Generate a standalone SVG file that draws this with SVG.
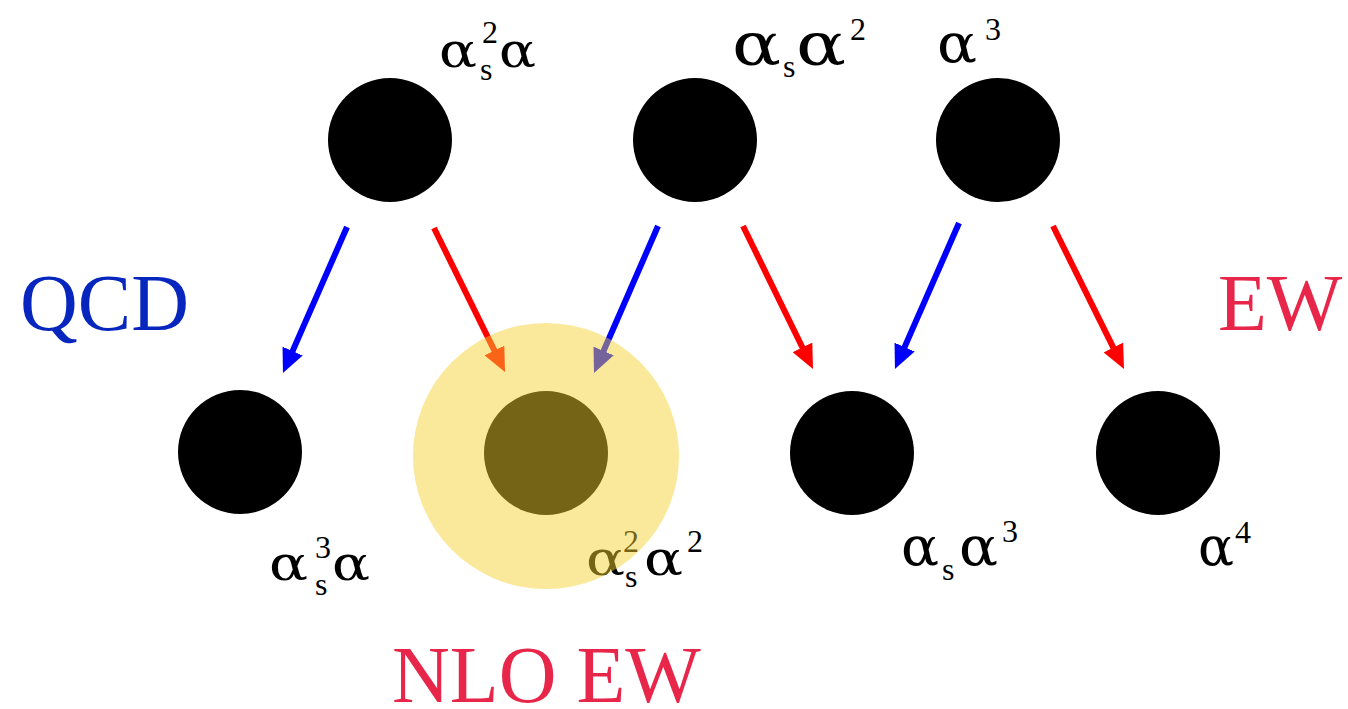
<svg xmlns="http://www.w3.org/2000/svg" width="1348" height="709" viewBox="0 0 1348 709">
<style>
  .node { fill: #000; }
  .lbl { font-family: "Liberation Serif", "Times New Roman", serif; fill: #000; }
  .a { font-family: "DejaVu Serif", "Liberation Serif", serif; }
  .big { font-size: 48px; }
  .big2 { font-size: 60px; }
  .big3 { font-size: 54px; }
  .sm { font-size: 32px; }
  .head { font-family: "Liberation Serif", "Times New Roman", serif; font-size: 80px; }
  .qcd { fill: #0626BE; }
  .ew { fill: #E8264A; }
  .arr-b { stroke: #0000FF; stroke-width: 6; fill: none; marker-end: url(#hb); }
  .arr-r { stroke: #FF0000; stroke-width: 6; fill: none; marker-end: url(#hr); }
</style>
<defs>
  <marker id="hb" viewBox="0 0 24 22" refX="2" refY="11" markerWidth="24" markerHeight="22" markerUnits="userSpaceOnUse" orient="auto">
    <path d="M0,0 L24,11 L0,22 z" fill="#0000FF"/>
  </marker>
  <marker id="hr" viewBox="0 0 24 22" refX="2" refY="11" markerWidth="24" markerHeight="22" markerUnits="userSpaceOnUse" orient="auto">
    <path d="M0,0 L24,11 L0,22 z" fill="#FF0000"/>
  </marker>
</defs>
<rect width="1348" height="709" fill="#fff"/>

<g id="connectors">
  <line class="arr-b" x1="347" y1="227" x2="291.8" y2="352.9"/>
  <line class="arr-r" x1="434" y1="228" x2="495.3" y2="352.3"/>
  <line class="arr-b" x1="658" y1="226" x2="602.8" y2="352.8"/>
  <line class="arr-r" x1="743" y1="226" x2="803.3" y2="349.2"/>
  <line class="arr-b" x1="959" y1="223" x2="903.8" y2="348.9"/>
  <line class="arr-r" x1="1053" y1="226" x2="1114.2" y2="349.3"/>
</g>

<g id="node-as2a">
  <circle class="node" cx="390" cy="140" r="62"/>
  <text class="lbl"><tspan class="a big" x="439" y="67" textLength="38" lengthAdjust="spacingAndGlyphs">α</tspan><tspan class="sm" x="480" y="80">s</tspan><tspan class="sm" x="482" y="43">2</tspan><tspan class="a big" x="499" y="67" textLength="37" lengthAdjust="spacingAndGlyphs">α</tspan></text>
</g>
<g id="node-asa2">
  <circle class="node" cx="695" cy="140" r="62"/>
  <text class="lbl"><tspan class="a big2" x="732" y="65" textLength="49" lengthAdjust="spacingAndGlyphs">α</tspan><tspan class="sm" x="783" y="77">s</tspan><tspan class="a big2" x="796" y="65" textLength="50" lengthAdjust="spacingAndGlyphs">α</tspan><tspan class="sm" x="850" y="40">2</tspan></text>
</g>
<g id="node-a3">
  <circle class="node" cx="998" cy="140" r="62"/>
  <text class="lbl"><tspan class="a big3" x="937" y="62" textLength="40" lengthAdjust="spacingAndGlyphs">α</tspan><tspan class="sm" x="985" y="40">3</tspan></text>
</g>
<g id="node-as3a">
  <circle class="node" cx="240" cy="452" r="62"/>
  <text class="lbl"><tspan class="a big" x="269" y="580" textLength="39" lengthAdjust="spacingAndGlyphs">α</tspan><tspan class="sm" x="315" y="595">s</tspan><tspan class="sm" x="315" y="558">3</tspan><tspan class="a big" x="332" y="580" textLength="38" lengthAdjust="spacingAndGlyphs">α</tspan></text>
</g>
<g id="node-as2a2">
  <circle class="node" cx="546" cy="453" r="62"/>
  <text class="lbl"><tspan class="a big" x="586" y="575" textLength="39" lengthAdjust="spacingAndGlyphs">α</tspan><tspan class="sm" x="625" y="587">s</tspan><tspan class="sm" x="623" y="552">2</tspan><tspan class="a big" x="644" y="575" textLength="39" lengthAdjust="spacingAndGlyphs">α</tspan><tspan class="sm" x="687" y="552">2</tspan></text>
</g>
<g id="node-asa3">
  <circle class="node" cx="852" cy="453" r="62"/>
  <text class="lbl"><tspan class="a big3" x="901" y="565" textLength="38" lengthAdjust="spacingAndGlyphs">α</tspan><tspan class="sm" x="942" y="580">s</tspan><tspan class="a big3" x="959" y="565" textLength="39" lengthAdjust="spacingAndGlyphs">α</tspan><tspan class="sm" x="1002" y="542">3</tspan></text>
</g>
<g id="node-a4">
  <circle class="node" cx="1158" cy="453" r="62"/>
  <text class="lbl"><tspan class="a big3" x="1198" y="565" textLength="36" lengthAdjust="spacingAndGlyphs">α</tspan><tspan class="sm" x="1235" y="543">4</tspan></text>
</g>

<g id="highlight">
  <circle cx="546" cy="456" r="133" fill="#F4D22E" fill-opacity="0.48"/>
</g>

<g id="annotations">
  <text class="head qcd" x="20" y="330">QCD</text>
  <text class="head ew" x="1218" y="330">EW</text>
  <text class="head ew" x="392" y="702">NLO EW</text>
</g>
</svg>
